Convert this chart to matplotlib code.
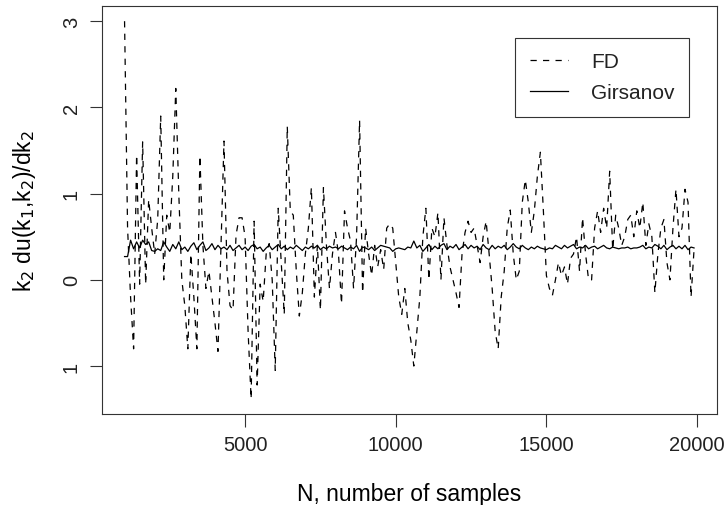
import numpy as np
import matplotlib.pyplot as plt

plt.rcParams['font.family'] = ['Liberation Sans', 'DejaVu Sans']
plt.rcParams['text.color'] = '#222222'
plt.rcParams['xtick.labelcolor'] = '#222222'
plt.rcParams['ytick.labelcolor'] = '#222222'

# sample sizes
N = np.arange(1000, 20000, 100)

# finite difference estimate
fd = [3.00, 0.60, -0.20, -0.80, 1.45, -0.05, 1.60, -0.05, 0.93, 0.60,
      0.30, 0.70, 1.90, 0.00, 0.75, 0.55, 1.20, 2.22, 1.00, 0.00,
      -0.30, -0.80, 0.30, -0.20, -0.80, 1.44, 0.40, -0.10, 0.10, -0.20,
      -0.50, -0.83, 0.40, 1.61, 0.10, -0.30, -0.35, 0.52, 0.72, 0.72,
      0.50, -0.60, -1.38, 0.68, -1.22, -0.05, -0.25, 0.30, 0.42, 0.00,
      -1.05, 0.83, 0.20, -0.40, 1.78, 0.80, 0.75, 0.10, -0.42, -0.15,
      0.30, 0.60, 1.07, -0.20, 0.40, -0.35, 1.07, 0.40, -0.10, 0.30,
      0.55, 0.30, -0.28, 0.80, 0.60, 0.45, -0.10, 0.50, 1.85, -0.15,
      0.60, 0.30, 0.05, 0.40, 0.15, 0.35, 0.12, 0.60, 0.65, 0.60,
      0.20, -0.20, -0.40, -0.10, -0.50, -0.70, -1.00, -0.60, -0.20, 0.50,
      0.83, 0.00, 0.60, 0.50, 0.78, 0.00, 0.72, 0.40, 0.15, 0.00,
      -0.15, -0.32, 0.30, 0.55, 0.68, 0.55, 0.60, 0.40, 0.20, 0.50,
      0.68, 0.30, -0.10, -0.60, -0.80, -0.20, 0.10, 0.60, 0.81, 0.30,
      0.00, 0.10, 0.90, 1.16, 0.90, 0.55, 0.80, 1.20, 1.48, 0.80,
      0.05, -0.10, -0.18, 0.00, 0.20, 0.05, 0.15, -0.05, 0.25, 0.30,
      0.50, 0.10, 0.72, 0.30, 0.00, 0.00, 0.60, 0.80, 0.55, 0.83,
      0.60, 1.26, 0.35, 0.75, 0.60, 0.40, 0.50, 0.70, 0.75, 0.50,
      0.80, 0.60, 0.90, 0.40, 0.65, 0.50, -0.15, 0.30, 0.60, 0.70,
      0.20, 0.00, 0.60, 1.05, 0.50, 0.60, 1.05, 0.90, -0.20, 0.35]

# Girsanov estimate
gir = [0.27, 0.27, 0.46, 0.36, 0.44, 0.37, 0.46, 0.41, 0.44, 0.34,
       0.33, 0.36, 0.34, 0.44, 0.38, 0.33, 0.41, 0.36, 0.44, 0.35,
       0.38, 0.33, 0.39, 0.43, 0.35, 0.40, 0.44, 0.34, 0.37, 0.42,
       0.35, 0.40, 0.36, 0.38, 0.35, 0.40, 0.34, 0.37, 0.40, 0.35,
       0.38, 0.34, 0.39, 0.41, 0.36, 0.38, 0.33, 0.37, 0.40, 0.35,
       0.38, 0.41, 0.36, 0.39, 0.35, 0.38, 0.36, 0.40, 0.37, 0.34,
       0.38, 0.36, 0.39, 0.37, 0.40, 0.35, 0.38, 0.36, 0.39, 0.37,
       0.38, 0.36, 0.39, 0.37, 0.35, 0.38, 0.36, 0.40, 0.33, 0.38,
       0.37, 0.35, 0.38, 0.34, 0.37, 0.40, 0.39, 0.38, 0.37, 0.33,
       0.36, 0.37, 0.36, 0.35, 0.38, 0.37, 0.45, 0.37, 0.40, 0.33,
       0.37, 0.41, 0.35, 0.39, 0.36, 0.40, 0.42, 0.35, 0.39, 0.37,
       0.41, 0.35, 0.38, 0.41, 0.36, 0.40, 0.37, 0.39, 0.35, 0.41,
       0.37, 0.35, 0.40, 0.36, 0.39, 0.37, 0.40, 0.35, 0.38, 0.42,
       0.38, 0.36, 0.40, 0.37, 0.35, 0.38, 0.36, 0.39, 0.37, 0.36,
       0.35, 0.37, 0.36, 0.40, 0.38, 0.36, 0.40, 0.37, 0.39, 0.41,
       0.36, 0.38, 0.37, 0.40, 0.36, 0.38, 0.39, 0.36, 0.38, 0.40,
       0.37, 0.36, 0.38, 0.37, 0.36, 0.37, 0.37, 0.38, 0.36, 0.37,
       0.37, 0.38, 0.40, 0.36, 0.38, 0.37, 0.41, 0.39, 0.36, 0.40,
       0.35, 0.38, 0.40, 0.36, 0.39, 0.36, 0.40, 0.35, 0.38, 0.37]

xticks = [5000, 10000, 15000, 20000]
yticks = [-1, 0, 1, 2, 3]
ytick_labels = ['1', '0', '1', '2', '3']

fig = plt.figure(figsize=(7.27, 5.06), dpi=100)
ax = fig.add_axes([0.140, 0.180, 0.846, 0.806])

ax.plot(N, fd, color='black', lw=0.9, linestyle=(0, (5, 5)), label='FD')
ax.plot(N, gir, color='black', lw=0.9, label='Girsanov')

# R style 4% padding
xr = N[-1] - N[0]
ax.set_xlim(N[0] - 0.04 * xr, N[-1] + 0.04 * xr)
ymin, ymax = min(fd), max(fd)
yr = ymax - ymin
ax.set_ylim(ymin - 0.04 * yr, ymax + 0.04 * yr)

ax.set_xticks(xticks)
ax.set_xticklabels([str(t) for t in xticks])
ax.set_yticks(yticks)
ax.set_yticklabels(ytick_labels, rotation=90, va='center')
ax.tick_params(direction='out', length=9, width=0.8, labelsize=14.5, pad=6,
               color='#333333')

for s in ax.spines.values():
    s.set_linewidth(0.8)
    s.set_color('#333333')

ax.set_xlabel('N, number of samples', fontsize=16.5, labelpad=20)
ax.set_ylabel(r'k$_2$ du(k$_1$,k$_2$)/dk$_2$', fontsize=16.5, labelpad=17)

leg = ax.legend(loc='upper right', bbox_to_anchor=(0.955, 0.922), fontsize=15,
                fancybox=False, edgecolor='#333333', framealpha=1,
                handlelength=1.85, borderpad=0.7, labelspacing=0.55,
                borderaxespad=0, handletextpad=1.1)
leg.get_frame().set_linewidth(0.8)

fig.savefig('out.png', dpi=100)
